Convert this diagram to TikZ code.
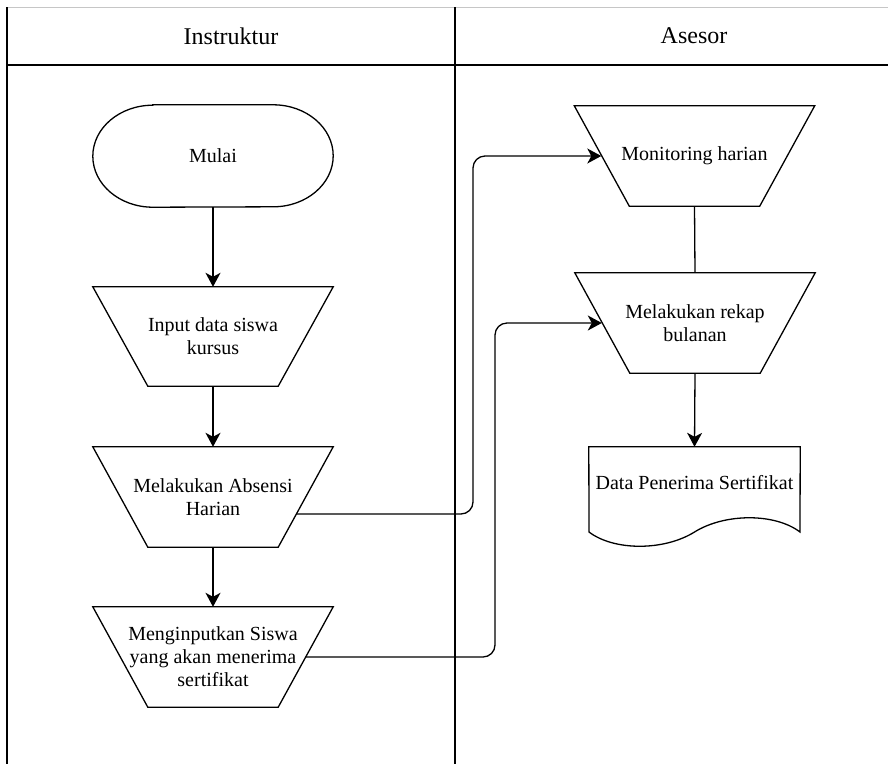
\documentclass[tikz,border=0pt]{standalone}
\usepackage{fontspec}
\setmainfont{Liberation Serif}
\usetikzlibrary{arrows.meta}
\begin{document}
\begin{tikzpicture}[x=1pt,y=1pt,
  box/.style={minimum width=240pt, minimum height=100pt, inner sep=0pt, align=center, font=\fontsize{20}{23}\selectfont},
  head/.style={inner sep=0pt, font=\fontsize{24}{28}\selectfont},
  lane/.style={line width=1.3pt},
  flow/.style={line width=1.3pt, -{Stealth[length=14pt,width=15pt,inset=4pt]}}]
\useasboundingbox (0,0) rectangle (888,-764);
\draw[gray!45, line width=1pt] (7,-7) -- (888,-7);
\draw[lane] (7,-7) -- (7,-764);
\draw[lane] (455,-7) -- (455,-764);
\draw[line width=2pt] (7,-65) -- (888,-65);
\node[head] (instruktur) at (231,-36) {Instruktur};
\node[head] (asesor) at (694,-36) {Asesor};
\node[box, minimum height=102pt] (mulai) at (213,-156) {Mulai};
\node[box, minimum height=99pt] (input) at (213,-336.5) {Input data siswa\\kursus};
\node[box] (absensi) at (213,-497) {Melakukan Absensi\\Harian};
\node[box] (mengin) at (213,-657) {Menginputkan Siswa\\yang akan menerima\\sertifikat};
\node[box] (monitoring) at (694.5,-156) {Monitoring harian};
\node[box] (rekap) at (695,-323) {Melakukan rekap\\bulanan};
\node[box, minimum width=211pt, minimum height=72pt] (doc) at (694.5,-483) {Data Penerima Sertifikat};
\draw[lane] ([xshift=60pt]mulai.north west) -- ([xshift=-60pt]mulai.north east)
  arc[start angle=90, end angle=-90, x radius=60pt, y radius=51pt]
  -- ([xshift=60pt]mulai.south west)
  arc[start angle=270, end angle=90, x radius=60pt, y radius=51pt] -- cycle;
\foreach \n in {input,absensi,mengin,monitoring,rekap}
  \draw[lane] (\n.north west) -- (\n.north east) -- ([xshift=-55pt]\n.south east) -- ([xshift=55pt]\n.south west) -- cycle;
\draw[lane] (doc.north west) -- (doc.north east) -- (800,-532)
  .. controls (775,-513) and (725,-513) .. (694.5,-532)
  .. controls (664,-551) and (614,-551) .. (589,-532) -- cycle;
\coordinate (bendA) at (473,0);
\coordinate (bendB) at (495,0);
\draw[flow] (mulai.south) -- (input.north);
\draw[flow] (input.south) -- (absensi.north);
\draw[flow] (absensi.south) -- (mengin.north);
\draw[lane] (monitoring.south) -- (rekap.north);
\draw[flow] (rekap.south) -- (doc.north);
\draw[flow, rounded corners=12pt] ([xshift=-37pt,yshift=-17pt]absensi.east) -| (bendA |- monitoring.west) -- ([xshift=27pt]monitoring.west);
\draw[flow, rounded corners=12pt] ([xshift=-27pt]mengin.east) -| (bendB |- rekap.west) -- ([xshift=27pt]rekap.west);
\end{tikzpicture}
\end{document}
